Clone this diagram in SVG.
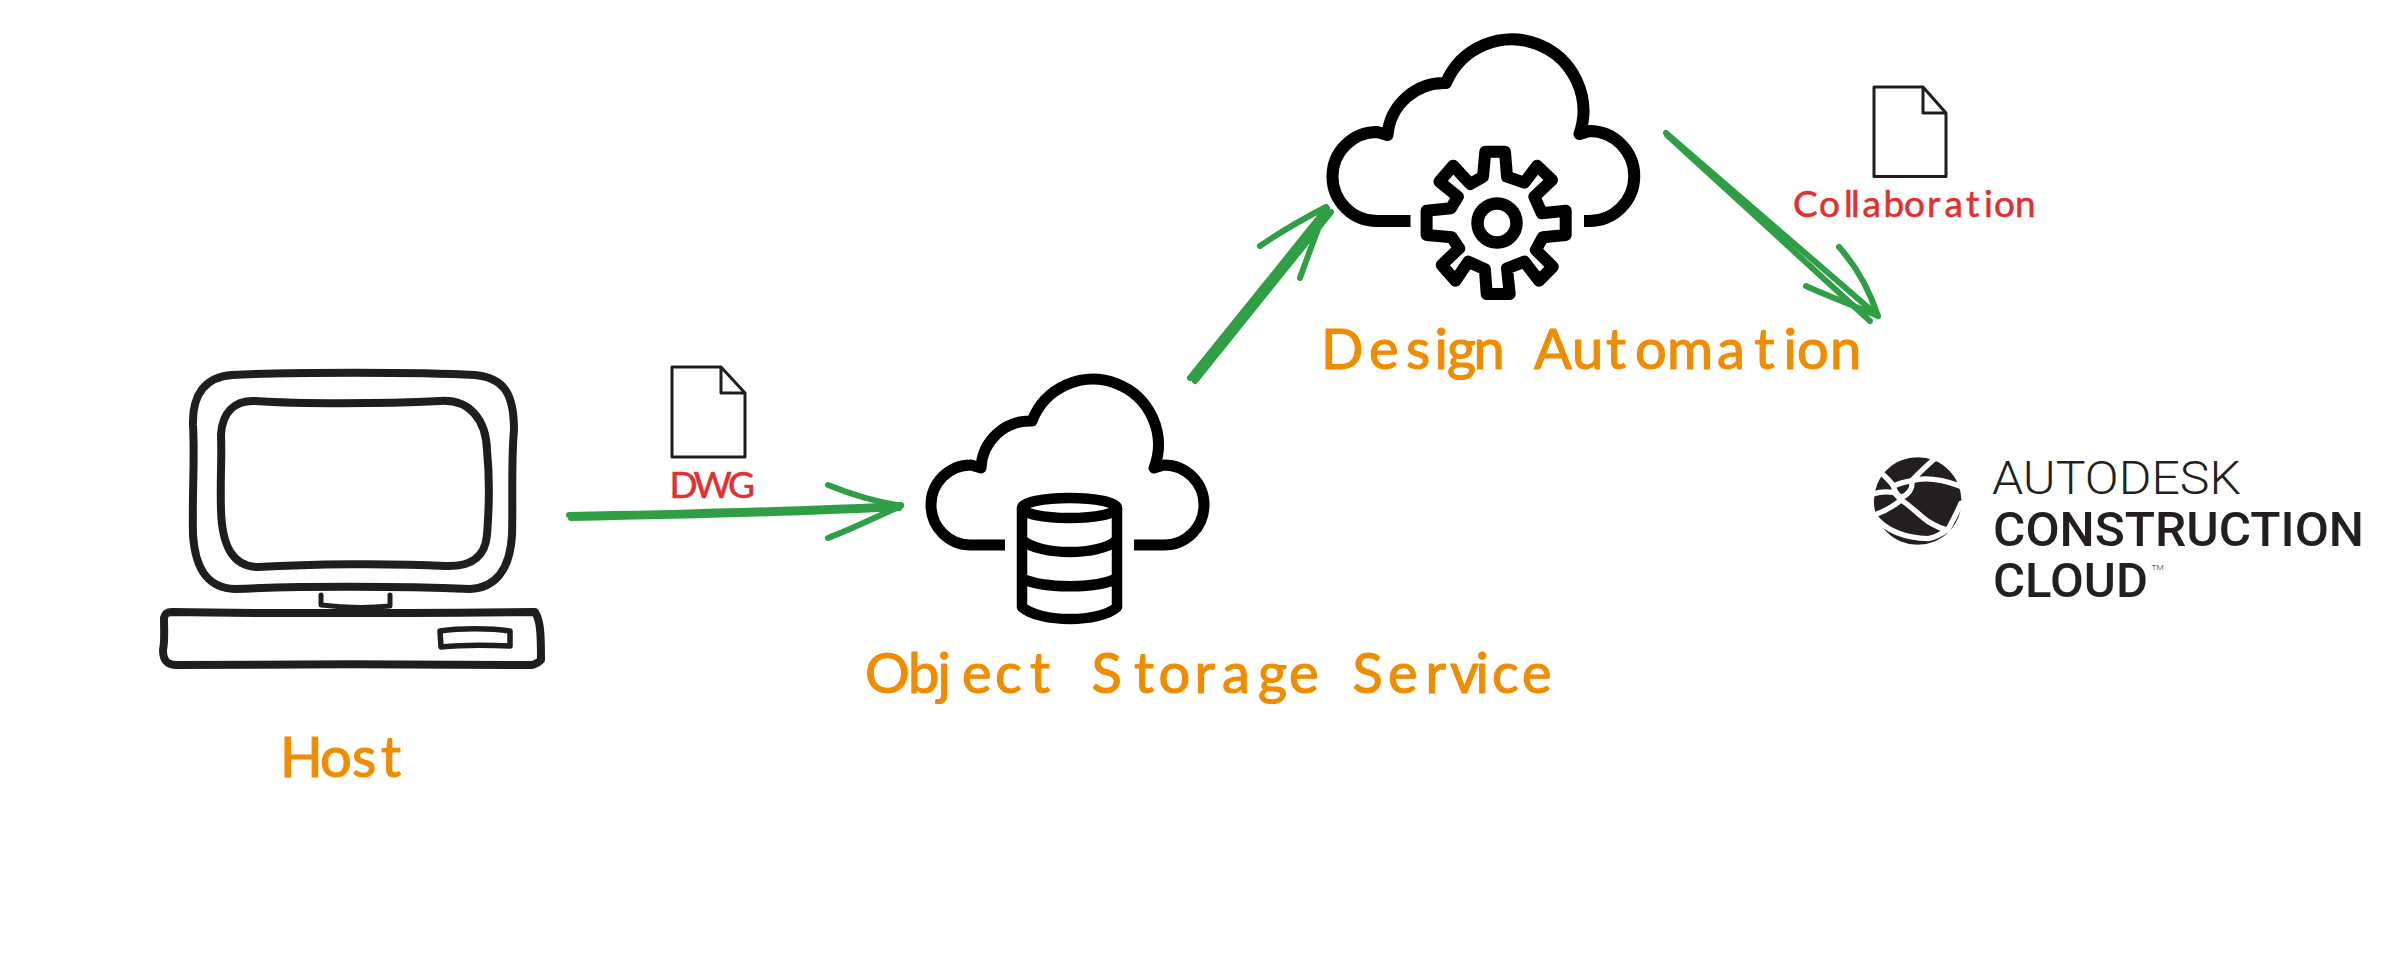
<svg xmlns="http://www.w3.org/2000/svg" width="2393" height="953" viewBox="0 0 2393 953">
<style>
.bg{fill:#fff}
.sk{fill:none;stroke:#1e1e1e;stroke-linecap:round;stroke-linejoin:round}
.ic{fill:none;stroke:#000;stroke-linejoin:round}
.ar{fill:none;stroke:#2f9e44;stroke-linecap:round;stroke-linejoin:round}
.hand{font-family:"Lato","Noto Sans",sans-serif;stroke-linejoin:round;stroke-linecap:round}
.or{fill:#f08c00;stroke:#f08c00;stroke-width:1.2;font-size:56px}
.rd{fill:#e03131;stroke:#e03131;stroke-width:.6;font-size:37px}
.lg{font-family:"Roboto","Liberation Sans",sans-serif;fill:#231f20}
</style>
<rect class="bg" width="2393" height="953"/>
<g id="connectors">
<g id="arrow-host-oss" class="ar" stroke-width="6">
<path d="M569 515 C680 513 800 510 901 505"/>
<path d="M571 518 C680 516 800 513 899 508"/>
<path d="M828 485 C850 494 878 502 901 506 C878 516 850 530 828 538"/>
</g>
<g id="arrow-oss-da" class="ar" stroke-width="6">
<path d="M1190 378 L1327 208"/>
<path d="M1195 381 L1331 212"/>
<path d="M1260 246 C1280 232 1305 218 1326 207 C1318 230 1308 255 1300 278"/>
</g>
<g id="arrow-da-acc" class="ar" stroke-width="6">
<path d="M1666 133 L1878 316"/>
<path d="M1667 135 L1870 321"/>
<path d="M1806 286 C1830 297 1855 306 1878 316 C1870 292 1858 268 1839 247"/>
</g>
</g>
<g id="host" class="sk" stroke-width="8">
<path d="M232 375 C290 372 420 372 475 375 C505 378 514 395 514 430 C511 460 513 510 512 535 C510 570 495 588 470 589 C400 586 300 586 235 589 C205 588 195 565 193 535 C192 490 195 460 193 425 C192 395 205 377 232 375 Z"/>
<path d="M255 401 C300 404 380 404 440 401 C470 399 486 420 487 450 C490 480 489 510 487 535 C485 558 470 567 445 566 C390 563 310 564 258 567 C232 567 222 545 221 510 C220 480 222 460 221 435 C222 412 235 400 255 401 Z"/>
<path stroke-width="5" d="M321 595 V605 C345 608 370 608 390 606 V595"/>
<path d="M172 612 C280 614 420 613 535 612 C540 620 541 630 541 660 C535 666 530 665 525 665 C420 664 280 664 175 665 C165 664 163 658 163 650 C165 640 164 630 164 618 C165 613 168 612 172 612 Z"/>
<path stroke-width="5.5" d="M440 631 C460 628 490 628 510 631 V646 C490 645 460 645 441 647 Z"/>
<text class="hand or" y="777" x="280 320 352 381">Host</text>
</g>
<g id="doc-dwg">
<path class="sk" stroke-width="3" d="M672 367 H721 L745 393 V457 H672 Z M721 367 V393 H745"/>
<text class="hand rd" y="498" x="669.5 693.5 728">DWG</text>
</g>
<g id="oss">
<path class="ic" stroke-width="11" d="M1005 545 H971 A40 40 0 0 1 971 465 L981 468 A49 49 0 0 1 1032 421 A64.5 64.5 0 0 1 1154 468 L1164 465 A40 40 0 0 1 1164 545 H1134"/>
<g class="ic" stroke-width="10.5">
<ellipse cx="1069.5" cy="508" rx="47.5" ry="10"/>
<path d="M1022 508 V607 C1040 623 1100 623 1117 607 V508"/>
<path d="M1022 540 C1040 556 1100 556 1117 540"/>
<path d="M1022 578 C1040 589 1100 589 1117 578"/>
</g>
<text class="hand or" y="693" x="865 908 937.5 962 995 1030 1060 1091.5 1134 1158.5 1194.5 1222 1258 1289 1326 1352.5 1388 1425.5 1450 1475.5 1492 1522">Object Storage Service</text>
</g>
<g id="design-automation">
<path class="ic" stroke-width="12" d="M1410.5 221 H1377 A44.5 44.5 0 0 1 1377 132 L1387.5 135 A57 57 0 0 1 1446 83 A71.5 71.5 0 0 1 1579.5 134 L1589.5 131 A45 45 0 0 1 1589 221 H1584"/>
<path class="ic" stroke-width="12" d="M1485.3 151.7 H1505 L1507 176.7 L1524.4 182.7 L1537.2 165.7 L1552 180 L1534.4 196.7 L1541.8 213.3 L1565.7 210.7 V235 L1542.7 237.3 L1535.8 250 L1552.8 266.7 L1539 280.7 L1524.4 261.7 L1507 268.3 L1509.7 294 H1486.7 L1484.9 269.3 L1468.3 261.7 L1455.5 280.7 L1441.7 265 L1459.2 248.3 L1451.8 237.3 L1426.6 235 V210.7 L1450.9 208.3 L1457.8 196.7 L1439.4 181.7 L1453.2 165.7 L1470.2 184 L1483 176.7 Z"/>
<circle class="ic" stroke-width="12.5" cx="1497" cy="223" r="19.5"/>
<text class="hand or" y="369" x="1321 1369 1406 1434.5 1447 1473.5 1510 1534 1572 1606 1635 1667 1717 1754.5 1783.5 1797 1830">Design Automation</text>
</g>
<g id="doc-collaboration">
<path class="sk" stroke-width="3" d="M1874 87 H1923 L1946 113 V176.5 H1874 Z M1923 87 V113 H1946"/>
<text class="hand rd" y="217" x="1793 1819 1844 1851 1862.5 1883.5 1904 1927 1944.5 1966 1984 1994 2015">Collaboration</text>
</g>
<g id="acc-logo">
<circle cx="1917.7" cy="501" r="43.8" fill="#231f20"/>
<g transform="translate(1865 450) scale(.3333)" fill="none" stroke="#fff" stroke-width="16" stroke-linejoin="round" stroke-linecap="round">
<path d="M215 22 C190 40 170 62 140 92 C165 85 215 82 285 108"/>
<path d="M48 68 C65 85 78 95 85 108 C105 98 125 95 140 92 C145 115 130 135 108 142 C95 135 88 120 85 108"/>
<path d="M24 132 C45 125 70 125 88 128 L108 150"/>
<path d="M28 195 C55 185 85 170 108 150 C135 165 160 195 190 215 C215 230 235 238 248 240 C262 215 275 190 288 160"/>
<path d="M30 200 C60 240 120 265 190 266 C215 260 235 248 248 238"/>
</g>
<text class="lg" x="1992" y="494" font-size="46" font-weight="300" textLength="249" lengthAdjust="spacingAndGlyphs">AUTODESK</text>
<text class="lg" x="1993" y="545.7" font-size="48" font-weight="500" textLength="371" lengthAdjust="spacingAndGlyphs">CONSTRUCTION</text>
<text class="lg" x="1993" y="597" font-size="48" font-weight="500" textLength="155" lengthAdjust="spacingAndGlyphs">CLOUD</text>
<text class="lg" x="2151.5" y="569.5" font-size="8" font-weight="300" textLength="12" lengthAdjust="spacingAndGlyphs">TM</text>
</g>
</svg>
